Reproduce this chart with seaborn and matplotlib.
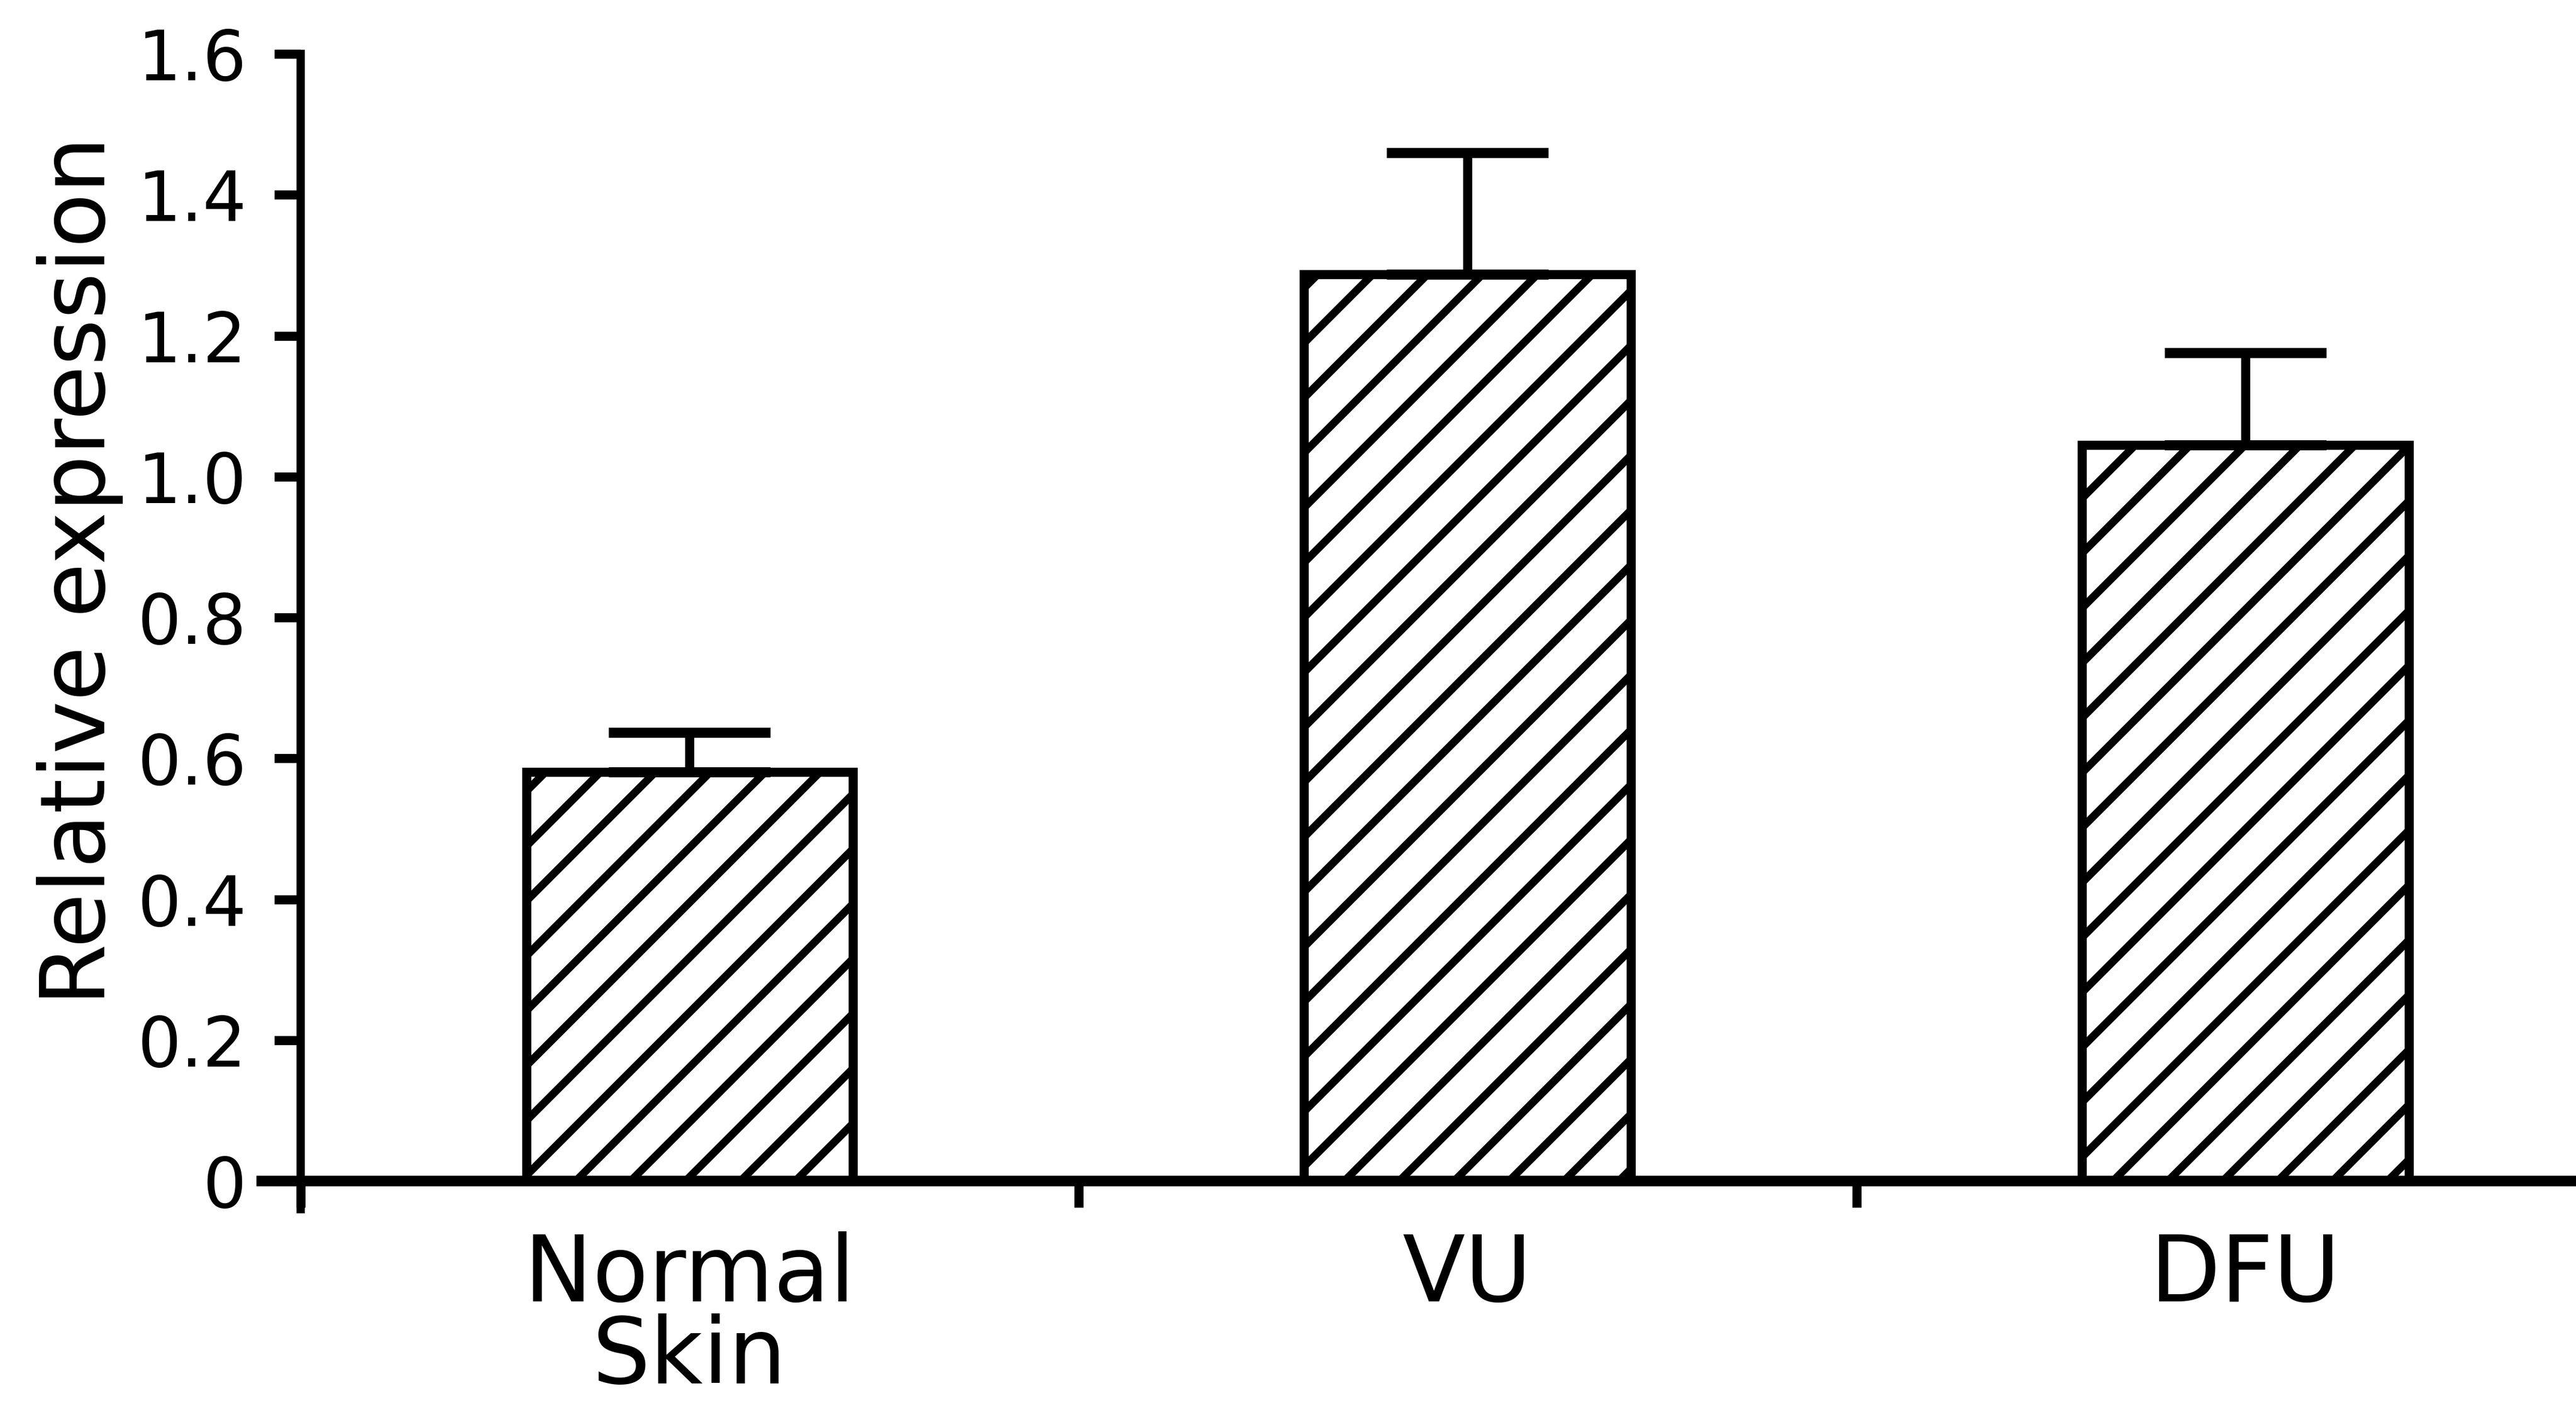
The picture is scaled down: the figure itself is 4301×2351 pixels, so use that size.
import numpy as np
import matplotlib
matplotlib.use("Agg")
import matplotlib.pyplot as plt
import seaborn as sns

categories = ["Normal\nSkin", "VU", "DFU"]
means = [0.581, 1.287, 1.045]
upper_err = [0.056, 0.173, 0.131]
yticks = [0, 0.2, 0.4, 0.6, 0.8, 1.0, 1.2, 1.4, 1.6]
ytick_labels = ["0", "0.2", "0.4", "0.6", "0.8", "1.0", "1.2", "1.4", "1.6"]

sns.set_style("ticks")
plt.rcParams["font.family"] = ["DejaVu Sans"]
plt.rcParams["hatch.linewidth"] = 1.7
plt.rcParams["hatch.color"] = "black"
for k in ["text.color", "axes.labelcolor", "xtick.color", "ytick.color", "axes.edgecolor"]:
    plt.rcParams[k] = "black"

DPI = 550
fig = plt.figure(figsize=(4301 / DPI, 2351 / DPI), dpi=DPI)
ax = fig.add_axes([0.1167, 0.1412, 0.8833, 0.8205])

sns.barplot(x=categories, y=means, color="white", saturation=1, edgecolor="black",
            linewidth=2.0, hatch="//", width=0.42, errorbar=None, ax=ax)
ax.errorbar(x=np.arange(len(means)), y=means, yerr=[np.zeros(len(means)), upper_err],
            fmt="none", ecolor="black", elinewidth=2.0, capsize=17.7, capthick=2.2, zorder=5)

ax.set_xlim(-0.5, 2.425)
ax.set_ylim(-0.04, 1.6)
ax.set_yticks(yticks)
ax.set_yticklabels(ytick_labels)
ax.tick_params(axis="y", length=5.8, width=2.0, pad=6, direction="out", labelsize=15)

ax.set_xticks([0, 1, 2])
ax.set_xticklabels(categories)
ax.tick_params(axis="x", which="major", length=0, pad=11, labelsize=20)
ax.set_xticks([-0.5, 0.5, 1.5], minor=True)
ax.tick_params(axis="x", which="minor", length=5.8, width=2.0, direction="out")

ax.spines["top"].set_visible(False)
ax.spines["right"].set_visible(False)
ax.spines["bottom"].set_position(("data", 0))
ax.spines["bottom"].set_bounds(-0.55, 2.425)
ax.spines["bottom"].set_linewidth(2.3)
ax.spines["left"].set_linewidth(1.8)

ax.set_xlabel("")
ax.set_ylabel("Relative expression", fontsize=19.5)
ax.yaxis.set_label_coords(-0.078, 0.5526)

fig.canvas.draw()
for lab in ax.get_xticklabels():
    lab.set_linespacing(0.9)

fig.savefig("out.png", dpi=DPI, facecolor="white")
